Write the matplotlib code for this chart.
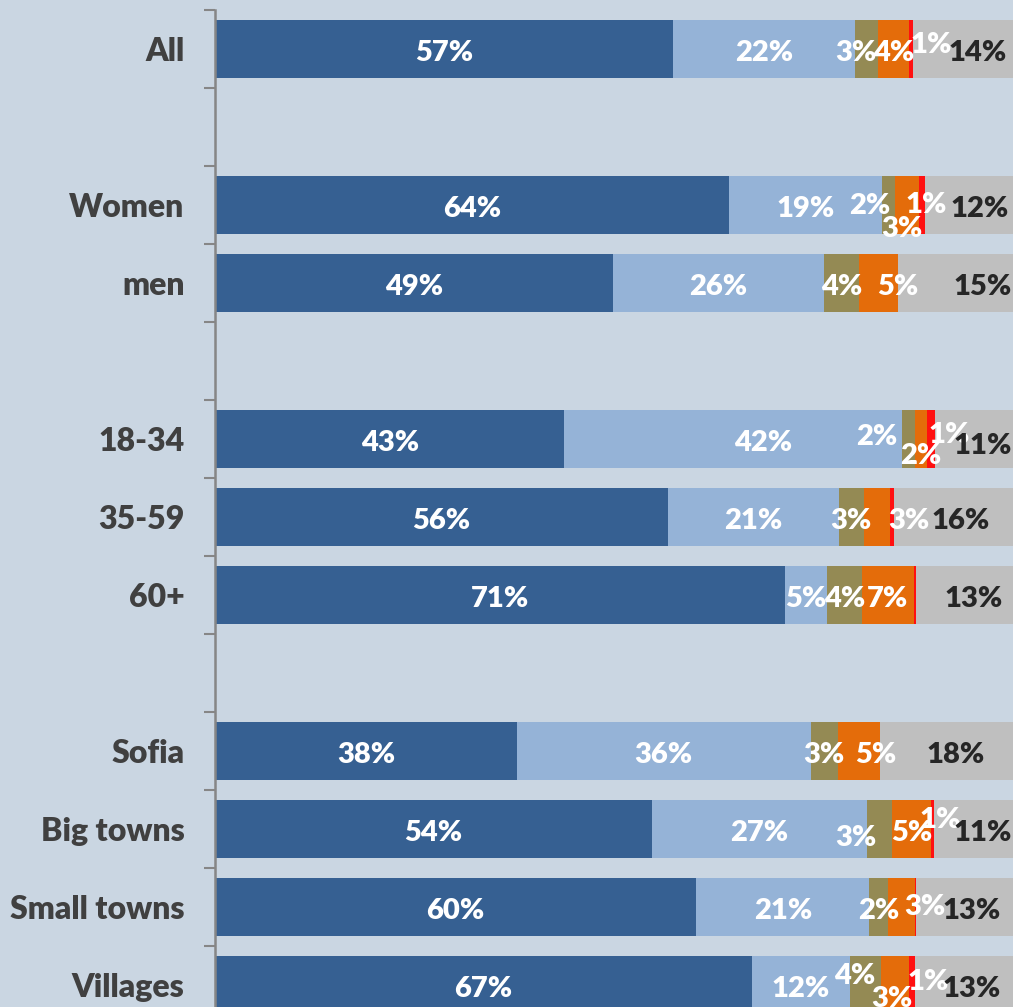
import numpy as np
import matplotlib.pyplot as plt

# Rows of the chart, top to bottom ('' = spacer row between groups)
categories = ['All', '', 'Women', 'men', '', '18-34', '35-59', '60+', '',
              'Sofia', 'Big towns', 'Small towns', 'Villages']

# Segment values (percent)
dark_blue = [56.9, 0, 63.9, 49.4, 0, 43.4, 56.3, 70.8, 0, 37.5, 54.3, 59.8, 66.7]
light_blue = [22.6, 0, 18.9, 26.3, 0, 41.9, 21.2, 5.2, 0, 36.5, 26.7, 21.5, 12.2]
olive = [2.9, 0, 1.7, 4.3, 0, 1.7, 3.1, 4.4, 0, 3.4, 3.1, 2.3, 3.8]
orange = [3.8, 0, 2.9, 4.9, 0, 1.4, 3.2, 6.4, 0, 5.2, 4.9, 3.3, 3.5]
red = [0.5, 0, 0.8, 0, 0, 1.1, 0.5, 0.25, 0, 0, 0.3, 0.2, 0.75]
grey = [14, 0, 12, 15, 0, 11, 16, 13, 0, 18, 11, 13, 13]

# Data labels as printed on the chart
lab_dark = ['57%', '', '64%', '49%', '', '43%', '56%', '71%', '', '38%', '54%', '60%', '67%']
lab_light = ['22%', '', '19%', '26%', '', '42%', '21%', '5%', '', '36%', '27%', '21%', '12%']
lab_olive = ['3%', '', '2%', '4%', '', '2%', '3%', '4%', '', '3%', '3%', '2%', '4%']
lab_orange = ['4%', '', '3%', '5%', '', '2%', '3%', '7%', '', '5%', '5%', '3%', '3%']
lab_red = ['1%', '', '1%', '', '', '1%', '', '', '', '', '1%', '', '1%']
lab_grey = ['14%', '', '12%', '15%', '', '11%', '16%', '13%', '', '18%', '11%', '13%', '13%']

series = [dark_blue, light_blue, olive, orange, red, grey]
labels = [lab_dark, lab_light, lab_olive, lab_orange, lab_red, lab_grey]
colors = ['#366092', '#95B3D7', '#948A54', '#E46C0A', '#FF1010', '#BFBFBF']
text_colors = ['white', 'white', 'white', 'white', 'white', '#262626']

# nudges of individual labels (pixels: right, down) like the original layout
nudge = {
    (2, 0): (-11, 0), (4, 0): (20, -8), (5, 0): (8, 0),
    (2, 2): (-19, -3), (3, 2): (-5, 20), (4, 2): (4, -4), (5, 2): (6, 0),
    (3, 3): (19, 0), (5, 3): (24, 0),
    (1, 5): (30, 0), (2, 5): (-32, -6), (3, 5): (0, 13), (4, 5): (18, -8), (5, 5): (3, 3),
    (3, 6): (32, 0), (5, 6): (3, 0),
    (5, 7): (6, 0),
    (3, 9): (17, 0), (5, 9): (3, 0),
    (2, 10): (-24, 5), (4, 10): (8, -13), (5, 10): (5, 0),
    (3, 11): (24, -4), (5, 11): (3, 0),
    (2, 12): (-11, -13), (3, 12): (-3, 10), (4, 12): (16, -7), (5, 12): (4, 0),
}

bg = '#CAD6E2'
plt.rcParams['font.family'] = ['Lato', 'DejaVu Sans']

W, H = 1013, 1007
fig = plt.figure(figsize=(W / 100, H / 100), dpi=100)
fig.patch.set_facecolor(bg)

row_px = 78
left_px, top_px = 215, 10
ax = fig.add_axes([left_px / W, (H - top_px - row_px * len(categories)) / H,
                   (W - left_px) / W, row_px * len(categories) / H])
ax.set_facecolor(bg)

px_per_pct = 8.05
ax.set_xlim(0, (W - left_px) / px_per_pct)
ax.set_ylim(len(categories) - 0.5, -0.5)

y = np.arange(len(categories))
left = np.zeros(len(categories))
for s, (vals, col) in enumerate(zip(series, colors)):
    vals = np.array(vals, dtype=float)
    ax.barh(y, vals, left=left, height=0.75, color=col, linewidth=0)
    for i in range(len(categories)):
        txt = labels[s][i]
        if not txt:
            continue
        dx, dy = nudge.get((s, i), (0, 0))
        ax.annotate(txt, (left[i] + vals[i] / 2, y[i]),
                    xytext=(dx, -dy - 4), textcoords='offset pixels',
                    ha='center', va='center', fontsize=21, fontweight='heavy',
                    color=text_colors[s], annotation_clip=False)
    left += vals

for side in ['top', 'right', 'bottom']:
    ax.spines[side].set_visible(False)
ax.spines['left'].set_color('#868686')
ax.spines['left'].set_linewidth(1.8)

ax.set_xticks([])
ax.set_yticks(y)
ax.set_yticklabels(categories, fontsize=23, fontweight='heavy', color='#404040')
ax.set_yticks(np.arange(-0.5, len(categories), 1), minor=True)
ax.tick_params(axis='y', which='major', length=0, pad=22)
ax.tick_params(axis='y', which='minor', length=8, width=1.5, color='#868686')

fig.savefig('out.png', dpi=100, facecolor=bg)
